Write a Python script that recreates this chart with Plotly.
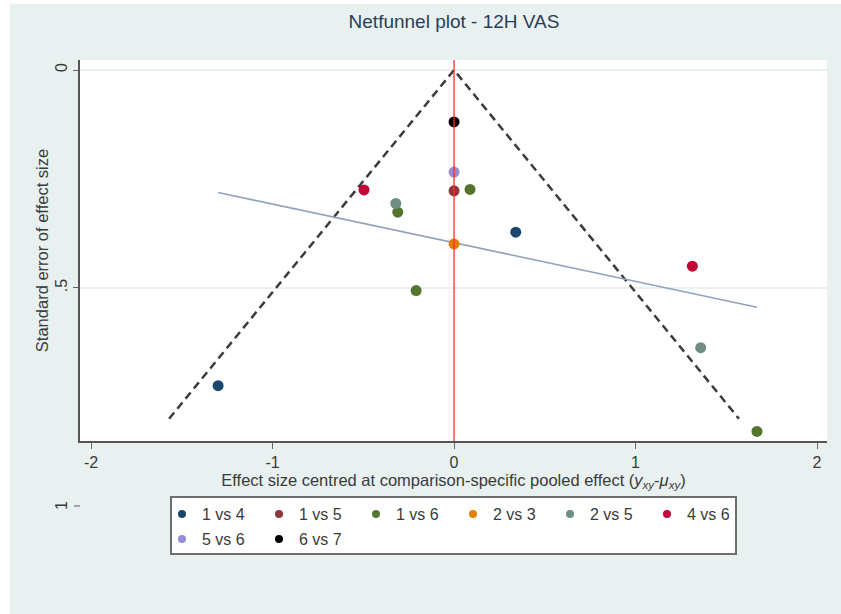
import plotly.graph_objects as go

# Comparison-specific centred effects (x) and their standard errors (se)
comparisons = ["1 vs 4", "1 vs 5", "1 vs 6", "2 vs 3", "2 vs 5", "4 vs 6", "5 vs 6", "6 vs 7"]
effect_x = [
    [-1.30, 0.34],
    [0.0],
    [0.088, -0.310, -0.209, 1.669],
    [0.0],
    [-0.321, 1.359],
    [-0.496, 1.313],
    [0.0],
    [0.0],
]
effect_se = [
    [0.724, 0.372],
    [0.277],
    [0.274, 0.326, 0.506, 0.829],
    [0.399],
    [0.306, 0.637],
    [0.275, 0.450],
    [0.234],
    [0.119],
]
colors = ["#1a476f", "#90353b", "#55752f", "#e37e00", "#6e8e84", "#c10534", "#938dd2", "#000000"]

# Pseudo 95% confidence funnel
funnel_x = [-1.57, 0.0, 1.57]
funnel_se = [0.80, 0.0, 0.80]

# Linear fit of se on centred effect
fit_x = [-1.30, 1.669]
fit_se = [0.281, 0.544]

x_ticks = [-2, -1, 0, 1, 2]
y_ticks = [0, 0.5]
y_ticktext = ["0", ".5"]

FONT = "Liberation Sans, Arial, sans-serif"
TXT = "#3a3a3a"
BG = "#e8f1f0"

fig = go.Figure()

fig.add_trace(go.Scatter(
    x=funnel_x, y=funnel_se, mode="lines",
    line=dict(color="#3c3c3c", width=2.5, dash="8px,5px"),
    showlegend=False, hoverinfo="skip",
))
fig.add_trace(go.Scatter(
    x=fit_x, y=fit_se, mode="lines",
    line=dict(color="#8ea4bb", width=1.6),
    showlegend=False, hoverinfo="skip",
))

for i, (name, xs, ses, col) in enumerate(zip(comparisons, effect_x, effect_se, colors)):
    fig.add_trace(go.Scatter(
        x=xs, y=ses, mode="markers", name=name,
        marker=dict(color=col, size=11, line=dict(width=0)),
        showlegend=False,
    ))
    # legend entry (smaller symbol)
    fig.add_trace(go.Scatter(
        x=[None], y=[None], mode="markers", name=name,
        marker=dict(color=col, size=8),
        legend="legend" if i < 6 else "legend2",
        showlegend=True,
    ))

W, H = 841, 614
L, R, T, B = 80, 14, 60, 173
pw, ph = W - L - R, H - T - B


def px_x(p):
    return (p - L) / pw


def px_y(p):
    return (H - B - p) / ph


shapes = [
    # zero line
    dict(type="line", xref="x", yref="paper", x0=0, x1=0, y0=0, y1=1,
         line=dict(color="#ff2a2a", width=1.3), layer="above"),
    # white strips on the outer edge
    dict(type="rect", xref="paper", yref="paper", x0=px_x(-5), x1=px_x(10),
         y0=px_y(H + 5), y1=px_y(-5), fillcolor="white", line=dict(width=0), layer="below"),
    dict(type="rect", xref="paper", yref="paper", x0=px_x(-5), x1=px_x(W + 5),
         y0=px_y(4), y1=px_y(-5), fillcolor="white", line=dict(width=0), layer="below"),
    # legend box
    dict(type="rect", xref="paper", yref="paper", x0=px_x(171), x1=px_x(736),
         y0=px_y(554), y1=px_y(497), fillcolor="white",
         line=dict(color="#6e6e6e", width=2), layer="above"),
    # tick at se = 1 below the plot region
    dict(type="line", xref="paper", yref="paper", x0=px_x(74), x1=px_x(80),
         y0=px_y(506), y1=px_y(506), line=dict(color="#777777", width=1.2)),
]

LEG_ENTRY = 52

fig.update_layout(
    width=W, height=H,
    margin=dict(l=L, r=R, t=T, b=B, autoexpand=False),
    paper_bgcolor=BG, plot_bgcolor="white",
    font=dict(family=FONT, size=16, color=TXT),
    title=dict(text="Netfunnel plot - 12H VAS", x=px_x(454), xref="paper", xanchor="center",
               y=1 - 21 / H, yref="container", yanchor="middle",
               font=dict(size=19, color="#2a3d5a", family=FONT)),
    xaxis=dict(
        range=[-2.061, 2.055], tickvals=x_ticks, ticktext=[str(v) if v >= 0 else "-" + str(-v) for v in x_ticks],
        showgrid=False, zeroline=False, showline=True, linecolor="#555555", linewidth=1.6,
        ticks="outside", ticklen=6, tickcolor="#666666", tickwidth=1.2,
        tickfont=dict(size=16, color=TXT),
        title=dict(text="Effect size centred at comparison-specific pooled effect "
                        "(<i>y<sub>xy</sub></i>-<i>μ<sub>xy</sub></i>)",
                   font=dict(size=16.5, color=TXT), standoff=2),
        mirror=False,
    ),
    yaxis=dict(
        range=[0.851, -0.023], tickvals=y_ticks, ticktext=y_ticktext, tickangle=-90,
        showgrid=True, gridcolor="#e9f0f0", gridwidth=1.5,
        zeroline=False, showline=True, linecolor="#555555", linewidth=1.6,
        ticks="outside", ticklen=5, tickcolor="#666666", tickwidth=1.2,
        tickfont=dict(size=16, color=TXT),
        title=dict(text="Standard error of effect size", font=dict(size=16.5, color=TXT), standoff=0),
    ),
    legend=dict(orientation="h", x=px_x(162), xanchor="left", y=px_y(514), yanchor="middle",
                entrywidth=LEG_ENTRY, entrywidthmode="pixels", bgcolor="rgba(0,0,0,0)",
                font=dict(size=16, color=TXT), itemclick=False, itemdoubleclick=False),
    legend2=dict(orientation="h", x=px_x(162), xanchor="left", y=px_y(539), yanchor="middle",
                 entrywidth=LEG_ENTRY, entrywidthmode="pixels", bgcolor="rgba(0,0,0,0)",
                 font=dict(size=16, color=TXT), itemclick=False, itemdoubleclick=False),
    shapes=shapes,
    annotations=[dict(text="1", xref="paper", yref="paper", x=px_x(61), y=px_y(506),
                      showarrow=False, textangle=-90, font=dict(size=16, color=TXT),
                      xanchor="center", yanchor="middle")],
    showlegend=True,
)

fig.write_html("out.html")
